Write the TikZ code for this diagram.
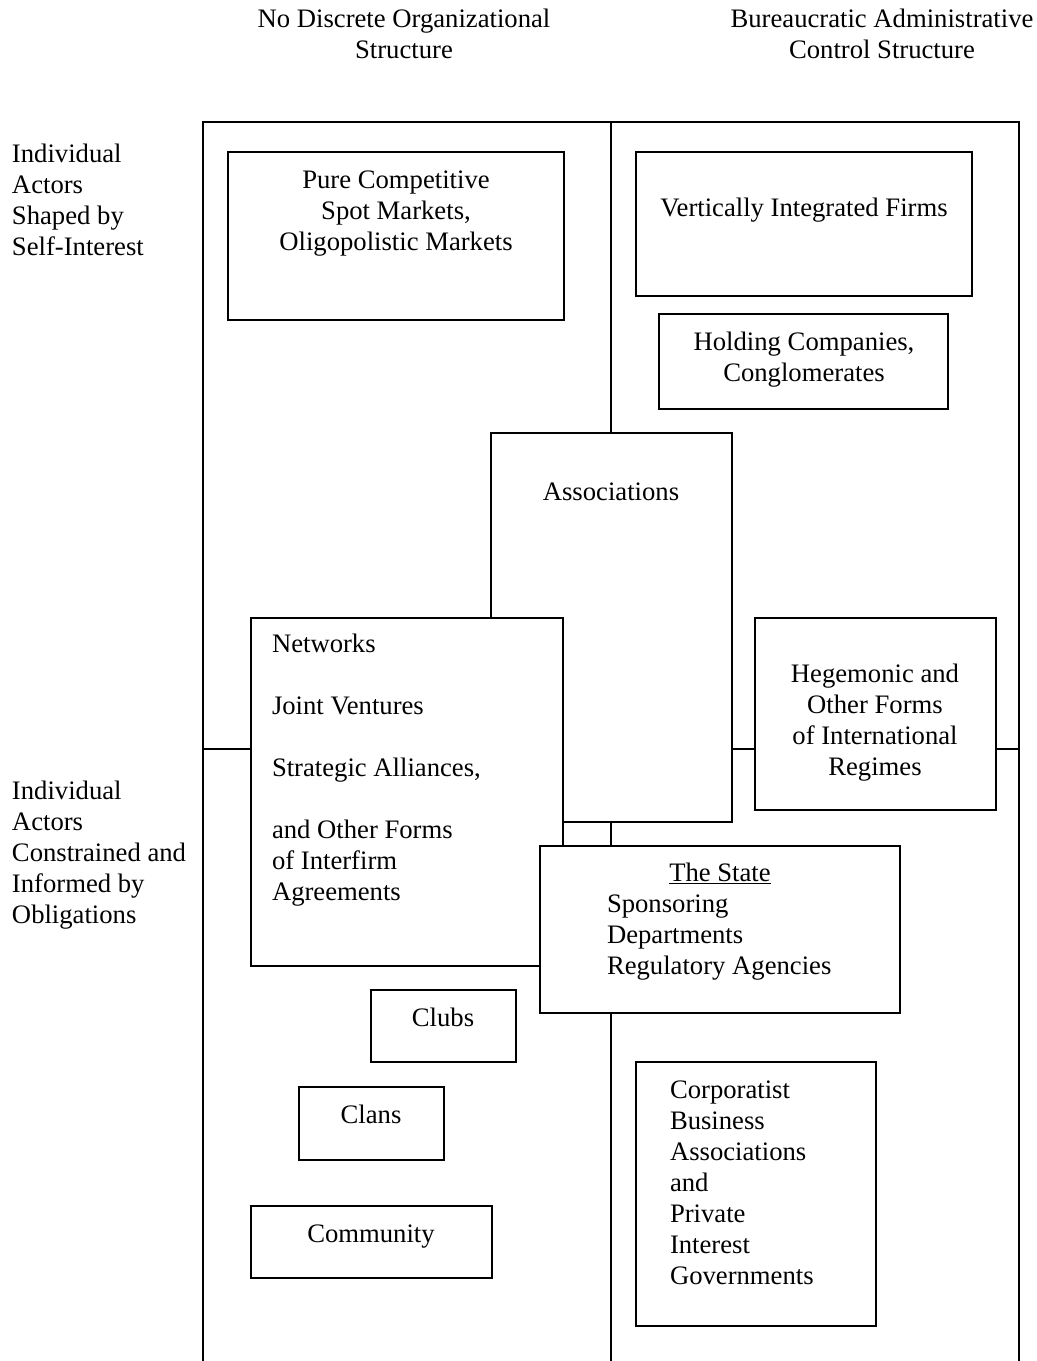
\documentclass[tikz,border=0pt]{standalone}
\usepackage{fontspec}
\setmainfont{Liberation Serif}
\usetikzlibrary{fit}
\begin{document}
\begin{tikzpicture}[x=0.75pt,y=-0.75pt,
  frame/.style={draw=black, line width=1.5pt},
  box/.style={draw=black, fill=white, line width=1.5pt, inner sep=0pt, outer sep=0pt},
  txt/.style={font=\fontsize{20pt}{23.25pt}\selectfont, inner sep=0pt, outer sep=0pt},
  ctxt/.style={txt, align=center, anchor=base},
  ltxt/.style={txt, align=left, anchor=base west}]
\useasboundingbox (0,0) rectangle (1037,1361);

% column headers (anchor = baseline of last line)
\node[ctxt] (h1) at (404,58) {No Discrete Organizational\\Structure};
\node[ctxt] (h2) at (882,58) {Bureaucratic Administrative\\Control Structure};

% row headers
\node[ltxt] (r1) at (12,255) {Individual\\Actors\\Shaped by\\Self-Interest};
\node[ltxt] (r2) at (12,923) {Individual\\Actors\\Constrained and\\Informed by\\Obligations};

% frame
\coordinate (fbl) at (203,1361);
\coordinate (ftl) at (203,122);
\coordinate (ftr) at (1019,122);
\coordinate (fbr) at (1019,1361);
\coordinate (mt) at (611,122);
\coordinate (mb) at (611,1361);
\coordinate (ml) at (203,749);
\coordinate (mr) at (1019,749);
\draw[frame] (fbl) -- (ftl) -- (ftr) -- (fbr);
\draw[frame] (mt) -- (mb);
\draw[frame] (ml) -- (mr);

% boxes
\node[box, fit={(228,152) (564,320)}] (pure) {};
\node[box, fit={(636,152) (972,296)}] (vif) {};
\node[box, fit={(659,314) (948,409)}] (hold) {};
\node[box, fit={(491,433) (732,822)}] (assoc) {};
\node[box, fit={(755,618) (996,810)}] (hege) {};
\node[box, fit={(251,618) (563,966)}] (netw) {};
\node[box, fit={(540,846) (900,1013)}] (state) {};
\node[box, fit={(371,990) (516,1062)}] (clubs) {};
\node[box, fit={(299,1087) (444,1160)}] (clans) {};
\node[box, fit={(251,1206) (492,1278)}] (comm) {};
\node[box, fit={(636,1062) (876,1326)}] (corp) {};

% texts
\node[ctxt] (pureT) at (396,250) {Pure Competitive\\Spot Markets,\\Oligopolistic Markets};
\node[ctxt] (vifT) at (804,216) {Vertically Integrated Firms};
\node[ctxt] (holdT) at (804,381) {Holding Companies,\\Conglomerates};
\node[ctxt] (assocT) at (611,500) {Associations};
\node[ctxt] (hegeT) at (875,775) {Hegemonic and\\Other Forms\\of International\\Regimes};
\node[ltxt] (netwT) at (272,900) {Networks\\[23.25pt]Joint Ventures\\[23.25pt]Strategic Alliances,\\[23.25pt]and Other Forms\\of Interfirm\\Agreements};
\node[ctxt] (stateT) at (720,881) {\underline{The State}};
\node[ltxt] (stateL) at (607,974) {Sponsoring\\Departments\\Regulatory Agencies};
\node[ctxt] (clubsT) at (443,1026) {Clubs};
\node[ctxt] (clansT) at (371,1123) {Clans};
\node[ctxt] (commT) at (371,1242) {Community};
\node[ltxt] (corpT) at (670,1284) {Corporatist\\Business\\Associations\\and\\Private\\Interest\\Governments};
\end{tikzpicture}
\end{document}
